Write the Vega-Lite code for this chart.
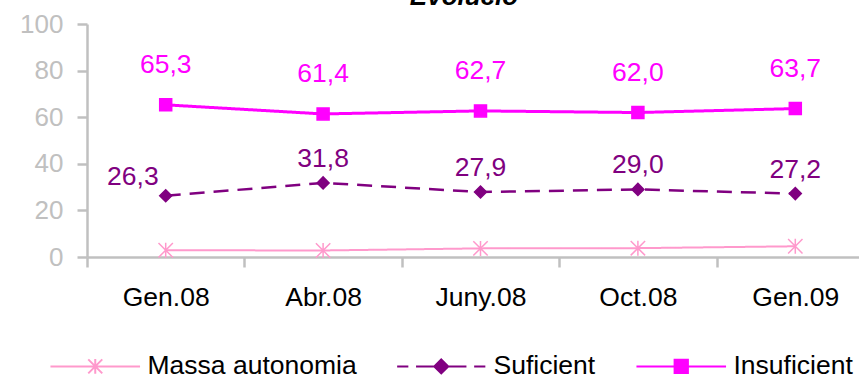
{
  "$schema": "https://vega.github.io/schema/vega-lite/v6.json",
  "width": 772,
  "height": 233,
  "autosize": {"type": "none"},
  "padding": {"left": 87, "top": 24, "right": 0, "bottom": 122},
  "config": {
    "font": "Liberation Sans",
    "view": {"stroke": null},
    "locale": {"number": {"decimal": ",", "thousands": ".", "grouping": [3], "currency": ["", " €"]}}
  },
  "title": {
    "text": "Evolució",
    "fontSize": 26,
    "fontWeight": "bold",
    "fontStyle": "italic",
    "color": "#000000",
    "anchor": "middle",
    "frame": "group",
    "offset": -20,
    "baseline": "alphabetic",
    "dx": -9
  },
  "data": {
    "values": [
      {"cat": "Gen.08", "series": "Massa autonomia", "value": 2.9},
      {"cat": "Abr.08", "series": "Massa autonomia", "value": 2.8},
      {"cat": "Juny.08", "series": "Massa autonomia", "value": 3.7},
      {"cat": "Oct.08", "series": "Massa autonomia", "value": 3.8},
      {"cat": "Gen.09", "series": "Massa autonomia", "value": 4.6},
      {"cat": "Gen.08", "series": "Suficient", "value": 26.3},
      {"cat": "Abr.08", "series": "Suficient", "value": 31.8},
      {"cat": "Juny.08", "series": "Suficient", "value": 27.9},
      {"cat": "Oct.08", "series": "Suficient", "value": 29.0},
      {"cat": "Gen.09", "series": "Suficient", "value": 27.2},
      {"cat": "Gen.08", "series": "Insuficient", "value": 65.3},
      {"cat": "Abr.08", "series": "Insuficient", "value": 61.4},
      {"cat": "Juny.08", "series": "Insuficient", "value": 62.7},
      {"cat": "Oct.08", "series": "Insuficient", "value": 62.0},
      {"cat": "Gen.09", "series": "Insuficient", "value": 63.7}
    ]
  },
  "encoding": {
    "x": {
      "field": "cat",
      "type": "nominal",
      "sort": ["Gen.08", "Abr.08", "Juny.08", "Oct.08", "Gen.09"],
      "scale": {"type": "band", "paddingInner": 0, "paddingOuter": 0, "range": [0, 787]},
      "axis": {
        "title": null,
        "tickBand": "extent",
        "labelAngle": 0,
        "labelFontSize": 26.5,
        "labelColor": "#000000",
        "labelPadding": 17,
        "tickSize": 10,
        "tickColor": "#c0c0c0",
        "tickWidth": 2.5,
        "domainColor": "#c0c0c0",
        "domainWidth": 2.5,
        "grid": false
      }
    },
    "y": {
      "field": "value",
      "type": "quantitative",
      "scale": {"domain": [0, 100]},
      "axis": {
        "title": null,
        "values": [0, 20, 40, 60, 80, 100],
        "labelFontSize": 26,
        "labelColor": "#c0c0c0",
        "labelPadding": 14,
        "tickSize": 10,
        "tickColor": "#c0c0c0",
        "tickWidth": 2.5,
        "domainColor": "#c0c0c0",
        "domainWidth": 2.5,
        "grid": false
      }
    }
  },
  "layer": [
    {
      "mark": {"type": "line"},
      "encoding": {
        "color": {"field": "series", "type": "nominal", "scale": {"domain": ["Massa autonomia", "Suficient", "Insuficient"], "range": ["#ff99cc", "#800080", "#ff00ff"]}, "legend": null},
        "strokeDash": {"field": "series", "type": "nominal", "scale": {"domain": ["Massa autonomia", "Suficient", "Insuficient"], "range": [[1, 0], [15, 9], [1, 0]]}, "legend": null},
        "strokeWidth": {"field": "series", "type": "nominal", "scale": {"domain": ["Massa autonomia", "Suficient", "Insuficient"], "range": [2, 3, 2]}, "legend": null}
      }
    },
    {
      "mark": {"type": "point", "filled": true, "size": 144, "strokeWidth": 1.5, "opacity": 1},
      "encoding": {
        "color": {"field": "series", "type": "nominal", "scale": {"domain": ["Massa autonomia", "Suficient", "Insuficient"], "range": ["#ff99cc", "#800080", "#ff00ff"]}, "legend": null},
        "stroke": {"field": "series", "type": "nominal", "scale": {"domain": ["Massa autonomia", "Suficient", "Insuficient"], "range": ["#ff99cc", "#800080", "#ff00ff"]}, "legend": null},
        "shape": {"field": "series", "type": "nominal", "scale": {"domain": ["Massa autonomia", "Suficient", "Insuficient"], "range": ["M-1.2,-1.2L1.2,1.2M-1.2,1.2L1.2,-1.2M0,-1.25V1.25", "diamond", "square"]}, "legend": null}
      }
    },
    {
      "mark": {"type": "point", "filled": true, "opacity": 0, "size": 196, "strokeWidth": 2},
      "encoding": {
        "color": {
          "field": "series", "type": "nominal",
          "scale": {"domain": ["Massa autonomia", "Suficient", "Insuficient"], "range": ["#ff99cc", "#800080", "#ff00ff"]},
          "legend": {"title": null, "orient": "none", "legendX": -5, "legendY": 329, "direction": "horizontal", "columns": 3, "symbolSize": 196, "symbolStrokeWidth": 2, "symbolOpacity": 1, "labelFontSize": 26.5, "labelColor": "#000000", "labelLimit": 400, "labelOffset": 39, "columnPadding": 36, "padding": 0}
        },
        "stroke": {
          "field": "series", "type": "nominal",
          "scale": {"domain": ["Massa autonomia", "Suficient", "Insuficient"], "range": ["#ff99cc", "#800080", "#ff00ff"]},
          "legend": {"title": null, "orient": "none", "legendX": -5, "legendY": 329, "direction": "horizontal", "columns": 3, "symbolSize": 196, "symbolStrokeWidth": 2, "symbolOpacity": 1, "labelFontSize": 26.5, "labelColor": "#000000", "labelLimit": 400, "labelOffset": 39, "columnPadding": 36, "padding": 0}
        },
        "shape": {
          "field": "series",
          "type": "nominal",
          "scale": {
            "domain": ["Massa autonomia", "Suficient", "Insuficient"],
            "range": [
              "M-6.4,0H6.4M-1,-1L1,1M-1,1L1,-1M0,-1.05V1.05",
              "M-6.3,0H-4.7M-3.6,0H-1M1,0H3.6M4.7,0H6.3M0,-1L1,0L0,1L-1,0Z",
              "M-6.4,0H6.4M-0.95,-0.95H0.95V0.95H-0.95Z"
            ]
          },
          "legend": {"title": null, "orient": "none", "legendX": -5, "legendY": 329, "direction": "horizontal", "columns": 3, "symbolSize": 196, "symbolStrokeWidth": 2, "symbolOpacity": 1, "labelFontSize": 26.5, "labelColor": "#000000", "labelLimit": 400, "labelOffset": 39, "columnPadding": 36, "padding": 0}
        }
      }
    },
    {
      "transform": [{"filter": "datum.series === 'Insuficient'"}],
      "mark": {"type": "text", "dy": -32, "baseline": "alphabetic", "fontSize": 26.5, "color": "#ff00ff"},
      "encoding": {"text": {"field": "value", "type": "quantitative", "format": ".1f"}}
    },
    {
      "transform": [{"filter": "datum.series === 'Suficient' && datum.cat !== 'Gen.08'"}],
      "mark": {"type": "text", "dy": -16, "baseline": "alphabetic", "fontSize": 26.5, "color": "#800080"},
      "encoding": {"text": {"field": "value", "type": "quantitative", "format": ".1f"}}
    },
    {
      "transform": [{"filter": "datum.series === 'Suficient' && datum.cat === 'Gen.08'"}],
      "mark": {"type": "text", "dy": -11, "dx": -7, "align": "right", "baseline": "alphabetic", "fontSize": 26.5, "color": "#800080"},
      "encoding": {"text": {"field": "value", "type": "quantitative", "format": ".1f"}}
    }
  ],
  "resolve": {"scale": {"shape": "independent", "color": "independent", "stroke": "independent"}}
}
